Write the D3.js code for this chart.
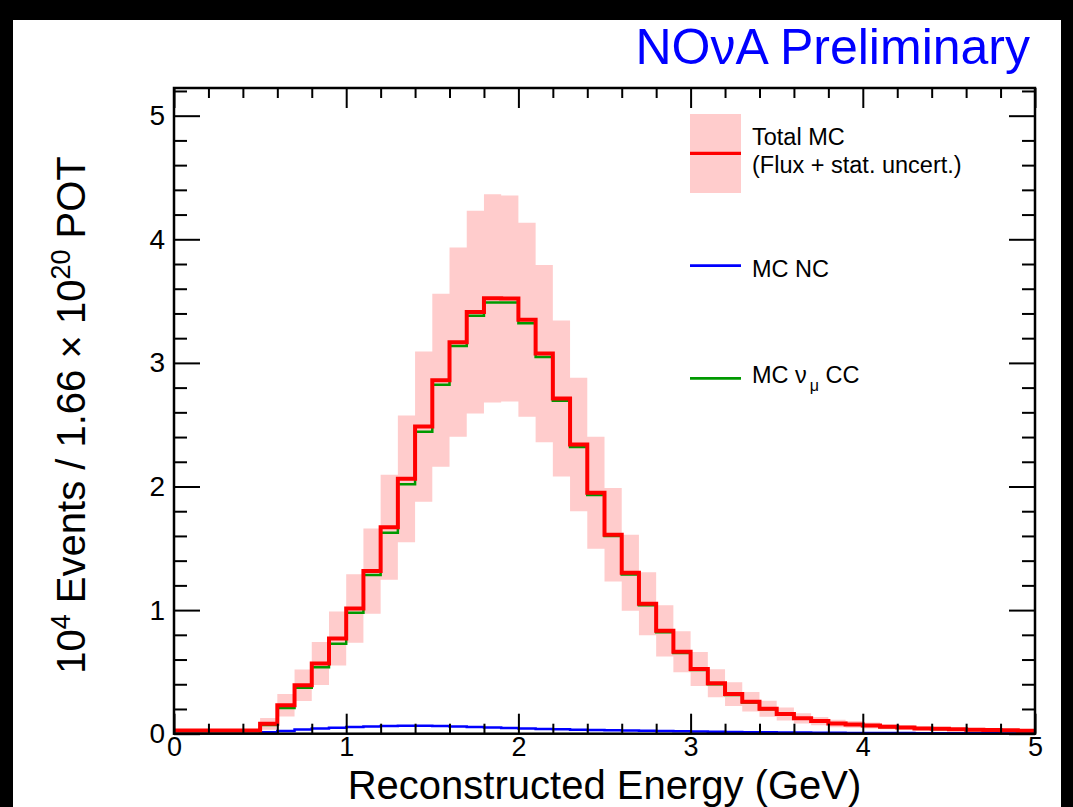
<!DOCTYPE html>
<html>
<head>
<meta charset="utf-8">
<script src="https://cdn.jsdelivr.net/npm/d3@7"></script>
<style>
  html, body { margin: 0; padding: 0; background: #fff; }
  svg { display: block; }
  text { font-family: "Liberation Sans", Arial, Helvetica, sans-serif; }
</style>
</head>
<body>
<svg id="chart" width="1073" height="807"></svg>
<script>
// Histogram binning: 50 bins of 0.1 GeV from 0 to 5 GeV
const energyMin = 0;
const energyMax = 5;
const nBins = 50;

// Total MC prediction (10^4 events per bin)
const totalMC = [
  0.025, 0.025, 0.025, 0.025, 0.025,
  0.080, 0.230, 0.392, 0.568, 0.770,
  1.013, 1.316, 1.670, 2.062, 2.485,
  2.860, 3.168, 3.411, 3.522, 3.521,
  3.349, 3.075, 2.712, 2.340, 1.950,
  1.610, 1.302, 1.052, 0.832, 0.663,
  0.524, 0.408, 0.321, 0.258, 0.202,
  0.159, 0.124, 0.102, 0.083, 0.075,
  0.067, 0.056, 0.051, 0.043, 0.040,
  0.035, 0.032, 0.029, 0.027, 0.024
];

// Flux + statistical uncertainty on the total (half-width of band)
const totalErr = [
  0, 0, 0, 0, 0,
  0.048, 0.091, 0.128, 0.173, 0.219,
  0.277, 0.345, 0.425, 0.513, 0.608,
  0.700, 0.766, 0.820, 0.842, 0.833,
  0.784, 0.718, 0.631, 0.540, 0.453,
  0.378, 0.307, 0.255, 0.207, 0.166,
  0.138, 0.114, 0.096, 0.079, 0.065,
  0.052, 0.041, 0.034, 0.030, 0.027,
  0.024, 0.020, 0.018, 0.015, 0.014,
  0.012, 0.011, 0.010, 0.009, 0.008
];

// MC numu charged-current component
const numuCC = [
  0, 0, 0, 0, 0,
  0.070, 0.208, 0.371, 0.538, 0.728,
  0.978, 1.283, 1.625, 2.018, 2.443,
  2.823, 3.136, 3.381, 3.489, 3.489,
  3.321, 3.048, 2.693, 2.320, 1.931,
  1.599, 1.288, 1.039, 0.820, 0.653,
  0.515, 0.400, 0.314, 0.252, 0.197,
  0.154, 0.120, 0.099, 0.080, 0.072,
  0.064, 0.054, 0.049, 0.041, 0.038,
  0.033, 0.030, 0.027, 0.025, 0.022
];

// MC neutral-current component
const ncBkg = [
  0, 0, 0, 0, 0,
  0.012, 0.022, 0.033, 0.042, 0.049,
  0.055, 0.059, 0.062, 0.064, 0.064,
  0.062, 0.059, 0.055, 0.051, 0.047,
  0.043, 0.039, 0.035, 0.032, 0.029,
  0.027, 0.025, 0.023, 0.021, 0.019,
  0.017, 0.015, 0.013, 0.012, 0.011,
  0.010, 0.009, 0.008, 0.007, 0.006,
  0.006, 0.005, 0.005, 0.004, 0.004,
  0.003, 0.003, 0.003, 0.002, 0.002
];

const xTickValues = [0, 1, 2, 3, 4, 5];
const yTickValues = [0, 1, 2, 3, 4, 5];
const yMax = 5.224;

const svg = d3.select("#chart");
const frame = { left: 174, right: 1035, top: 88, bottom: 733.7 };

const x = d3.scaleLinear().domain([energyMin, energyMax]).range([frame.left, frame.right]);
const y = d3.scaleLinear().domain([0, yMax]).range([frame.bottom, frame.top]);

const edges = d3.range(nBins + 1).map(i => energyMin + i * (energyMax - energyMin) / nBins);

// Dark surround of the canvas
svg.append("rect").attr("x", 0).attr("y", 0).attr("width", 1073).attr("height", 807).attr("fill", "#fff");
svg.append("rect").attr("x", 0).attr("y", 0).attr("width", 13).attr("height", 807).attr("fill", "#000");
svg.append("rect").attr("x", 0).attr("y", 0).attr("width", 1073).attr("height", 20).attr("fill", "#000");
svg.append("rect").attr("x", 1061).attr("y", 0).attr("width", 12).attr("height", 807).attr("fill", "#000");

svg.append("defs").append("clipPath").attr("id", "plotClip")
  .append("rect")
  .attr("x", frame.left).attr("y", frame.top)
  .attr("width", frame.right - frame.left).attr("height", frame.bottom - frame.top);

const plot = svg.append("g").attr("clip-path", "url(#plotClip)");

function histPoints(vals) {
  return edges.map((e, i) => ({ e: e, v: vals[Math.min(i, nBins - 1)], i: Math.min(i, nBins - 1) }));
}

// Uncertainty band
const band = d3.area()
  .curve(d3.curveStepAfter)
  .x(d => x(d.e))
  .y0(d => y(d.v - totalErr[d.i]))
  .y1(d => y(d.v + totalErr[d.i]));

const bandData = histPoints(totalMC).filter(d => d.e >= 0.5 - 1e-9);
plot.append("path").datum(bandData)
  .attr("d", band)
  .attr("fill", "#ffcccc");

const stepLine = d3.line().curve(d3.curveStepAfter).x(d => x(d.e)).y(d => y(d.v));

plot.append("path").datum(histPoints(ncBkg))
  .attr("d", stepLine).attr("fill", "none")
  .attr("stroke", "#0000ff").attr("stroke-width", 2.5);

plot.append("path").datum(histPoints(numuCC))
  .attr("d", stepLine).attr("fill", "none")
  .attr("stroke", "#009900").attr("stroke-width", 2.5);

plot.append("path").datum(histPoints(totalMC))
  .attr("d", stepLine).attr("fill", "none")
  .attr("stroke", "#ff0000").attr("stroke-width", 4)
  .attr("stroke-linejoin", "miter");

// Axes: major and minor ticks on all four sides, pointing inward
const minorX = d3.range(0, 5.0001, 0.2).filter(v => Math.abs(v - Math.round(v)) > 1e-6);
const minorY = d3.range(0, yMax, 0.2).filter(v => Math.abs(v - Math.round(v)) > 1e-6);

function styleAxis(g, size) {
  g.select(".domain").remove();
  g.selectAll(".tick line").attr("stroke", "#000").attr("stroke-width", 2);
  g.selectAll(".tick text")
    .attr("fill", "#000")
    .style("font-family", '"Liberation Sans", Arial, Helvetica, sans-serif')
    .style("font-size", (size || 28) + "px");
}

svg.append("g").attr("transform", `translate(0,${frame.bottom})`)
  .call(d3.axisBottom(x).tickValues(xTickValues).tickSize(-20).tickPadding(3.5).tickFormat(d3.format("d")))
  .call(styleAxis, 27);
svg.append("g").attr("transform", `translate(0,${frame.bottom})`)
  .call(d3.axisBottom(x).tickValues(minorX).tickSize(-10).tickFormat(""))
  .call(styleAxis);
svg.append("g").attr("transform", `translate(0,${frame.top})`)
  .call(d3.axisTop(x).tickValues(xTickValues).tickSize(-20).tickFormat(""))
  .call(styleAxis);
svg.append("g").attr("transform", `translate(0,${frame.top})`)
  .call(d3.axisTop(x).tickValues(minorX).tickSize(-10).tickFormat(""))
  .call(styleAxis);

svg.append("g").attr("transform", `translate(${frame.left},0)`)
  .call(d3.axisLeft(y).tickValues(yTickValues).tickSize(-26).tickPadding(9).tickFormat(d3.format("d")))
  .call(styleAxis, 28);
svg.append("g").attr("transform", `translate(${frame.left},0)`)
  .call(d3.axisLeft(y).tickValues(minorY).tickSize(-13).tickFormat(""))
  .call(styleAxis);
svg.append("g").attr("transform", `translate(${frame.right},0)`)
  .call(d3.axisRight(y).tickValues(yTickValues).tickSize(-26).tickFormat(""))
  .call(styleAxis);
svg.append("g").attr("transform", `translate(${frame.right},0)`)
  .call(d3.axisRight(y).tickValues(minorY).tickSize(-13).tickFormat(""))
  .call(styleAxis);

// Frame
svg.append("rect")
  .attr("x", frame.left).attr("y", frame.top)
  .attr("width", frame.right - frame.left).attr("height", frame.bottom - frame.top)
  .attr("fill", "none").attr("stroke", "#000").attr("stroke-width", 2.5);

// Axis titles
svg.append("text")
  .attr("x", (frame.left + frame.right) / 2).attr("y", 798.5)
  .attr("text-anchor", "middle").attr("font-size", 40).attr("fill", "#000")
  .text("Reconstructed Energy (GeV)");

const yTitle = svg.append("text")
  .attr("transform", "translate(85,415) rotate(-90)")
  .attr("text-anchor", "middle").attr("font-size", 40).attr("fill", "#000");
yTitle.append("tspan").text("10");
yTitle.append("tspan").attr("font-size", 27).attr("dy", -15).text("4");
yTitle.append("tspan").attr("dy", 15).text(" Events / 1.66 \u00d7 10");
yTitle.append("tspan").attr("font-size", 27).attr("dy", -15).text("20");
yTitle.append("tspan").attr("dy", 15).text(" POT");

// Experiment label
svg.append("text")
  .attr("x", 1030).attr("y", 64)
  .attr("text-anchor", "end").attr("font-size", 50).attr("fill", "#0000ff")
  .text("NO\u03bdA Preliminary");

// Legend
const legend = svg.append("g");
legend.append("rect").attr("x", 690).attr("y", 114).attr("width", 51).attr("height", 79).attr("fill", "#ffcccc");
legend.append("line").attr("x1", 690).attr("x2", 741).attr("y1", 153.3).attr("y2", 153.3)
  .attr("stroke", "#ff0000").attr("stroke-width", 3.3);
legend.append("text").attr("x", 752).attr("y", 145).attr("font-size", 23.5).text("Total MC");
legend.append("text").attr("x", 752).attr("y", 172.7).attr("font-size", 23.5).text("(Flux + stat. uncert.)");

legend.append("line").attr("x1", 690).attr("x2", 741).attr("y1", 265.7).attr("y2", 265.7)
  .attr("stroke", "#0000ff").attr("stroke-width", 2.7);
legend.append("text").attr("x", 752).attr("y", 276.7).attr("font-size", 23.5).text("MC NC");

legend.append("line").attr("x1", 690).attr("x2", 741).attr("y1", 378.3).attr("y2", 378.3)
  .attr("stroke", "#009900").attr("stroke-width", 2.7);
const ccLabel = legend.append("text").attr("x", 752).attr("y", 383.3).attr("font-size", 23.5);
ccLabel.append("tspan").text("MC \u03bd");
ccLabel.append("tspan").attr("font-size", 16).attr("dx", 3).attr("dy", 8).text("\u03bc");
ccLabel.append("tspan").attr("dy", -8).text("  CC");
</script>
</body>
</html>
